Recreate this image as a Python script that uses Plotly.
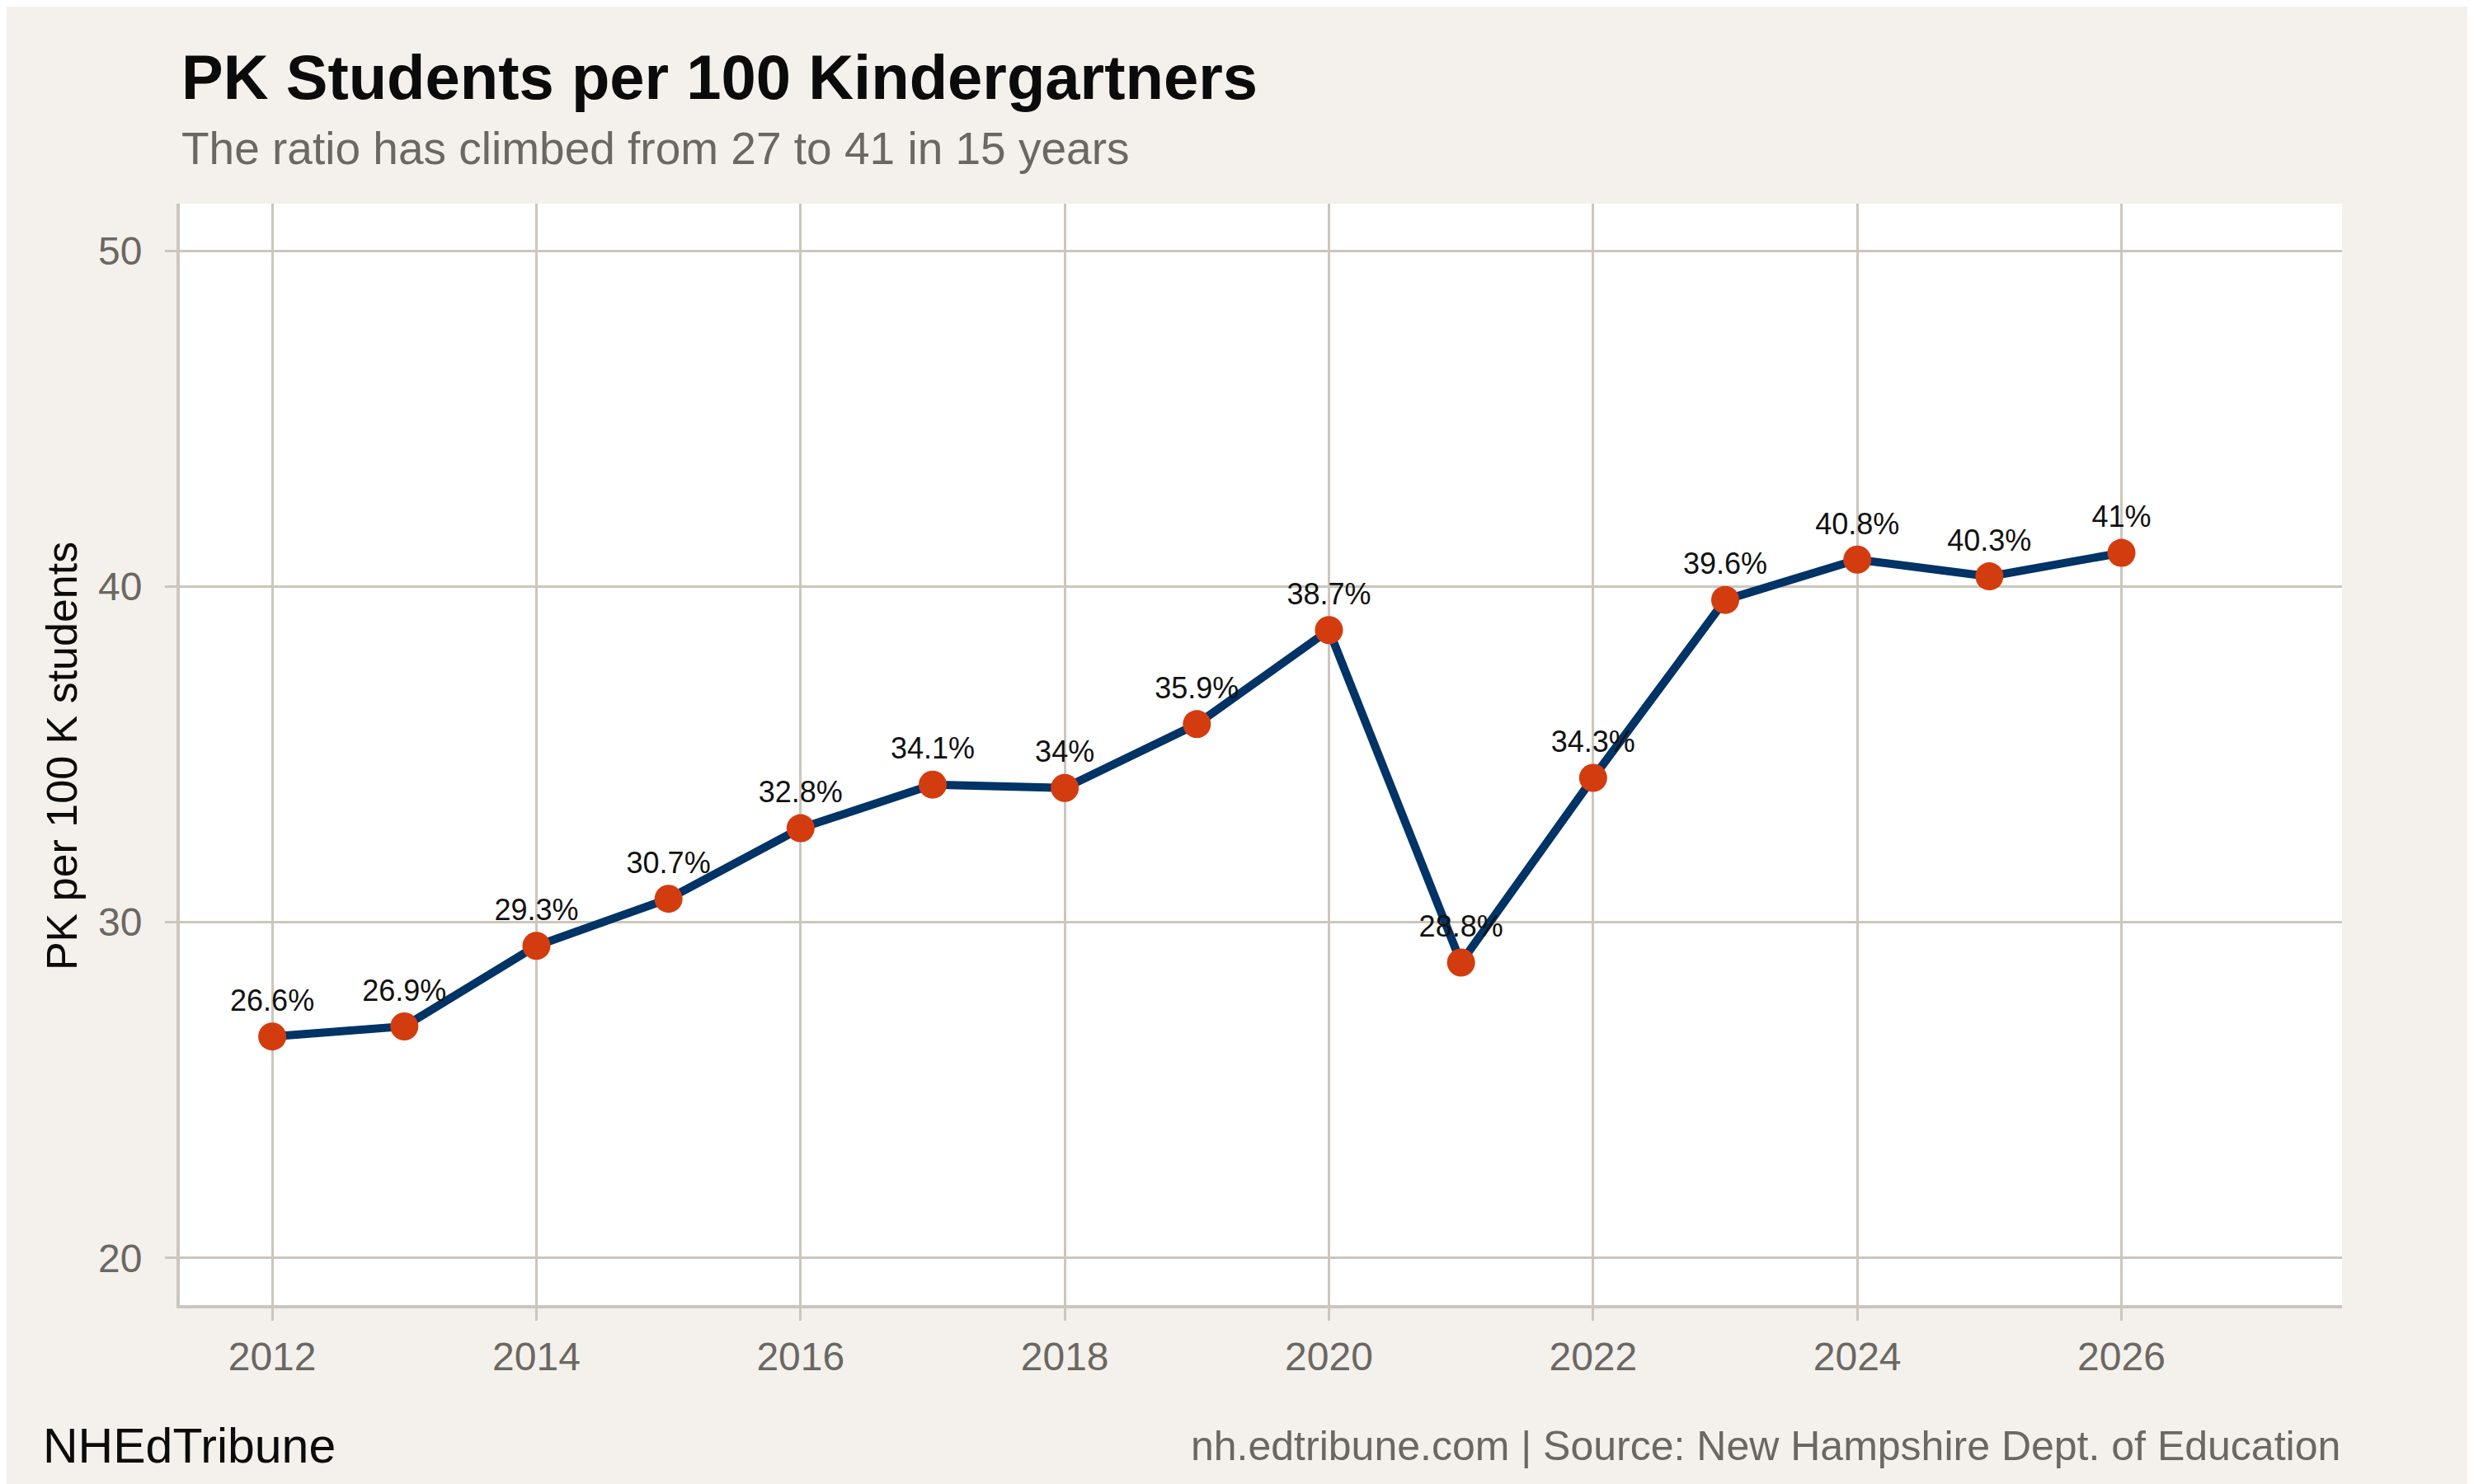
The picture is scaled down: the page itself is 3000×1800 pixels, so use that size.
import plotly.graph_objects as go

# Datos
years = [2012, 2013, 2014, 2015, 2016, 2017, 2018, 2019, 2020, 2021, 2022, 2023, 2024, 2025, 2026]
ratio = [26.6, 26.9, 29.3, 30.7, 32.8, 34.1, 34.0, 35.9, 38.7, 28.8, 34.3, 39.6, 40.8, 40.3, 41.0]
labels = ["26.6%", "26.9%", "29.3%", "30.7%", "32.8%", "34.1%", "34%", "35.9%", "38.7%",
          "28.8%", "34.3%", "39.6%", "40.8%", "40.3%", "41%"]
x_ticks = [2012, 2014, 2016, 2018, 2020, 2022, 2024, 2026]
y_ticks = [20, 30, 40, 50]

BG = "#F4F1EC"
GRID = "#CCC6BD"
GREY_TXT = "#6B6763"
FONT = "Liberation Sans, Arial, sans-serif"

fig = go.Figure()

fig.add_trace(go.Scatter(
    x=years, y=ratio,
    mode="lines+markers+text",
    line=dict(color="#003366", width=10),
    marker=dict(color="#D33C0E", size=34),
    text=labels,
    textposition="top center",
    textfont=dict(family=FONT, size=36, color="#111111"),
    cliponaxis=False,
    showlegend=False,
    hoverinfo="x+y",
))

fig.update_layout(
    width=3000, height=1800,
    paper_bgcolor=BG,
    plot_bgcolor="white",
    margin=dict(l=210, r=168, t=239, b=225),
    font=dict(family=FONT),
)

fig.update_xaxes(
    range=[2011.3, 2027.67],
    tickvals=x_ticks,
    tickfont=dict(size=48, color=GREY_TXT),
    showgrid=True, gridcolor=GRID, gridwidth=2.5,
    showline=True, linecolor=GRID, linewidth=4,
    ticks="outside", ticklen=15, tickcolor=GRID, tickwidth=2.5,
    ticklabelstandoff=2,
    zeroline=False,
)
fig.update_yaxes(
    range=[18.6, 51.4],
    tickvals=y_ticks,
    tickfont=dict(size=48, color=GREY_TXT),
    showgrid=True, gridcolor=GRID, gridwidth=3,
    showline=True, linecolor=GRID, linewidth=4,
    ticks="outside", ticklen=14, tickcolor=GRID, tickwidth=3,
    ticklabelstandoff=18,
    zeroline=False,
)

# Títulos y pie
fig.add_annotation(
    text="<b>PK Students per 100 Kindergartners</b>",
    xref="paper", yref="paper", x=0, y=1.1149, xanchor="left", yanchor="middle",
    showarrow=False, font=dict(size=76, color="#0B0B0B"),
)
fig.add_annotation(
    text="The ratio has climbed from 27 to 41 in 15 years",
    xref="paper", yref="paper", x=0, y=1.0498, xanchor="left", yanchor="middle",
    showarrow=False, font=dict(size=55, color=GREY_TXT),
)
fig.add_annotation(
    text="PK per 100 K students", textangle=-90,
    xref="paper", yref="paper", x=-0.0545, y=0.4985, xanchor="center", yanchor="middle",
    showarrow=False, font=dict(size=52, color="#0B0B0B"),
)
fig.add_annotation(
    text="NHEdTribune",
    xref="paper", yref="paper", x=-0.0640, y=-0.128, xanchor="left", yanchor="middle",
    showarrow=False, font=dict(size=59, color="#0B0B0B"),
)
fig.add_annotation(
    text="nh.edtribune.com | Source: New Hampshire Dept. of Education",
    xref="paper", yref="paper", x=1, y=-0.128, xanchor="right", yanchor="middle",
    showarrow=False, font=dict(size=50, color=GREY_TXT),
)

fig.write_html("out.html")
